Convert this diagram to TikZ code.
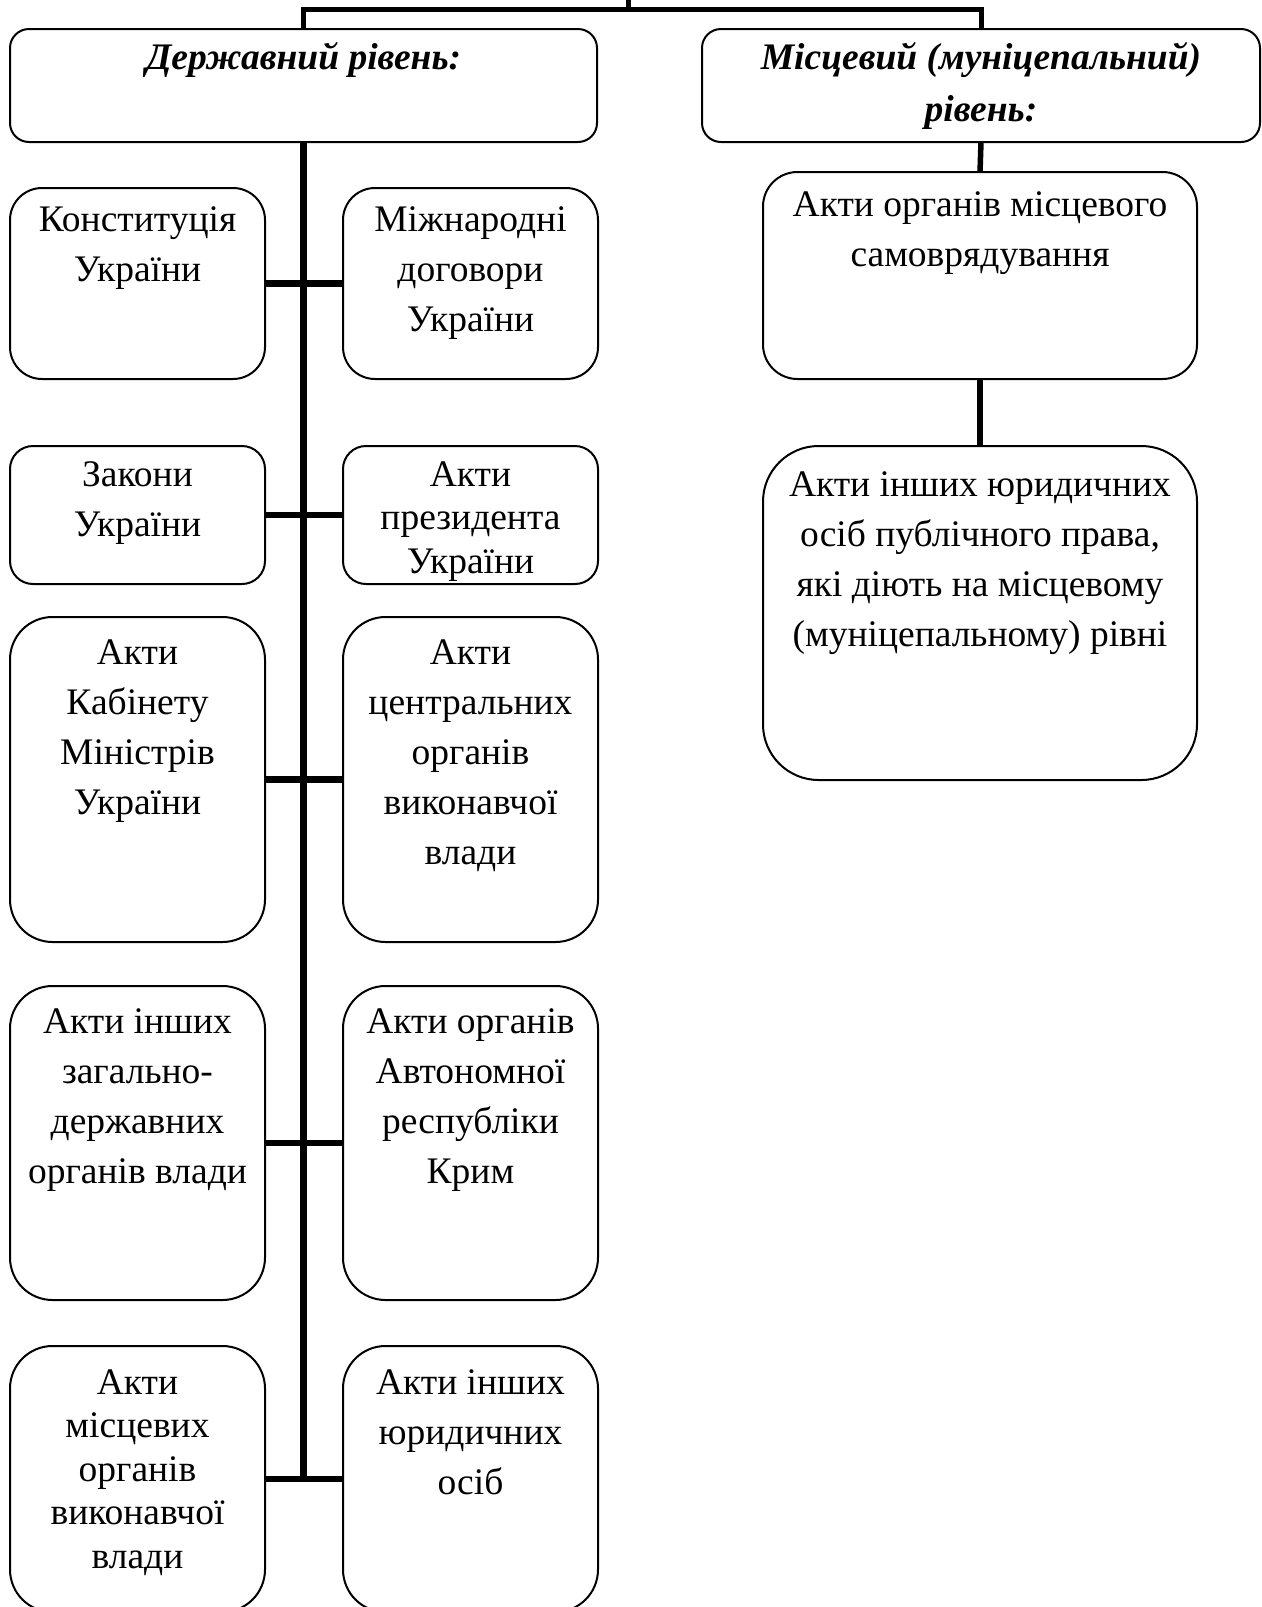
\documentclass[tikz,border=0pt]{standalone}
\usepackage{fontspec}
\setmainfont{Liberation Serif}
\begin{document}
\begin{tikzpicture}[x=0.5pt,y=-0.5pt,
  box/.style={draw, line width=1pt, inner sep=0pt, outer sep=0pt},
  txt/.style={anchor=north, align=center, inner sep=0pt, font=\fontsize{18.75}{25}\selectfont},
  tighttxt/.style={anchor=north, align=center, inner sep=0pt, font=\fontsize{18.75}{21.75}\selectfont},
  headtxt/.style={anchor=north, align=center, inner sep=0pt, font=\fontsize{18.75}{26}\selectfont\bfseries\itshape},
  topline/.style={line width=2.5pt},
  spine/.style={line width=3.25pt},
  rline/.style={line width=2.75pt}]
\useasboundingbox (0,0) rectangle (1262,1607);
% header boxes
\node[box, minimum width=293.5pt, minimum height=56.5pt, rounded corners=9.5pt] (hl) at (303.5,85.5) {};
\node[box, minimum width=279pt, minimum height=56.5pt, rounded corners=9.5pt] (hr) at (981,85.5) {};
\node[headtxt] (thl) at (303.5,32.5) {\strut Державний рівень:};
\node[headtxt] (thr) at (981,32.5) {\strut Місцевий (муніцепальний)\\рівень:};
% left column
\node[box, minimum width=127.5pt, minimum height=95.5pt, rounded corners=16pt] (r1l) at (137.5,283.5) {};
\node[box, minimum width=127.5pt, minimum height=95.5pt, rounded corners=16pt] (r1r) at (470.5,283.5) {};
\node[box, minimum width=127.5pt, minimum height=69pt, rounded corners=11.5pt] (r2l) at (137.5,515) {};
\node[box, minimum width=127.5pt, minimum height=69pt, rounded corners=11.5pt] (r2r) at (470.5,515) {};
\node[box, minimum width=127.5pt, minimum height=162.5pt, rounded corners=21.25pt] (r3l) at (137.5,779.5) {};
\node[box, minimum width=127.5pt, minimum height=162.5pt, rounded corners=21.25pt] (r3r) at (470.5,779.5) {};
\node[box, minimum width=127.5pt, minimum height=157pt, rounded corners=21.25pt] (r4l) at (137.5,1143) {};
\node[box, minimum width=127.5pt, minimum height=157pt, rounded corners=21.25pt] (r4r) at (470.5,1143) {};
\node[box, minimum width=127.5pt, minimum height=133pt, rounded corners=21.25pt] (r5l) at (137.5,1479) {};
\node[box, minimum width=127.5pt, minimum height=133pt, rounded corners=21.25pt] (r5r) at (470.5,1479) {};
% right column
\node[box, minimum width=217pt, minimum height=103.5pt, rounded corners=17.25pt] (ra) at (980,275.5) {};
\node[box, minimum width=217pt, minimum height=167pt, rounded corners=27.8pt] (rb) at (980,613) {};
% texts
\node[txt] (t1l) at (137.5,196) {\strut Конституція\\України};
\node[txt] (t1r) at (470.5,196) {\strut Міжнародні\\договори\\України};
\node[txt] (t2l) at (137.5,451) {\strut Закони\\України};
\node[tighttxt] (t2r) at (470.5,455.5) {\strut Акти\\президента\\України};
\node[txt] (t3l) at (137.5,629) {\strut Акти\\Кабінету\\Міністрів\\України};
\node[txt] (t3r) at (470.5,629) {\strut Акти\\центральних\\органів\\виконавчої\\влади};
\node[txt] (t4l) at (137.5,998) {\strut Акти інших\\загально-\\державних\\органів влади};
\node[txt] (t4r) at (470.5,998) {\strut Акти органів\\Автономної\\республіки\\Крим};
\node[tighttxt] (t5l) at (137.5,1363.5) {\strut Акти\\місцевих\\органів\\виконавчої\\влади};
\node[txt] (t5r) at (470.5,1359) {\strut Акти інших\\юридичних\\осіб};
\node[txt] (ta) at (980,181) {\strut Акти органів місцевого\\самоврядування};
\node[txt] (tb) at (980,461) {\strut Акти інших юридичних\\осіб публічного права,\\які діють на місцевому\\(муніцепальному) рівні};
% connectors
\coordinate (top) at (628,0);
\coordinate (j) at (628,9);
\draw[topline] (top) -- (j);
\draw[topline] (hl.north) |- (j) -| (hr.north);
\draw[spine] (hl.south) -- (hl.south |- r5l.east);
\draw[spine] (r1l.east) -- (r1r.west);
\draw[spine] (r2l.east) -- (r2r.west);
\draw[spine] (r3l.east) -- (r3r.west);
\draw[spine] (r4l.east) -- (r4r.west);
\draw[spine] (r5l.east) -- (r5r.west);
\draw[rline] (hr.south) -- (ra.north);
\draw[rline] (ra.south) -- (rb.north);
\end{tikzpicture}
\end{document}
